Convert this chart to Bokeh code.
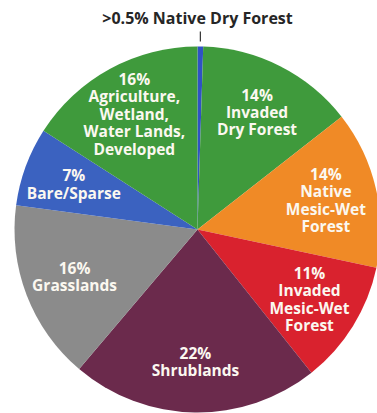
import math
from bokeh.plotting import figure
from bokeh.models import Range1d, ColumnDataSource
from bokeh.core.properties import value
from bokeh.embed import file_html
from bokeh.resources import INLINE

# ---- data (clockwise from 12 o'clock) ----
categories = ["Native Dry Forest", "Invaded Dry Forest", "Native Mesic-Wet Forest",
              "Invaded Mesic-Wet Forest", "Shrublands", "Grasslands", "Bare/Sparse",
              "Agriculture, Wetland, Water Lands, Developed"]
percents = [0.5, 14, 14, 11, 22, 16, 7, 16]
labels = ["", "14%\nInvaded\nDry Forest", "14%\nNative\nMesic-Wet\nForest",
          "11%\nInvaded\nMesic-Wet\nForest", "22%\nShrublands", "16%\nGrasslands",
          "7%\nBare/Sparse", "16%\nAgriculture,\nWetland,\nWater Lands,\nDeveloped"]
colors = ["#2f52c4", "#3f9a3c", "#f08a26", "#d9222e", "#6b2a4c", "#8b8b8b",
          "#3b62c0", "#3f9a3c"]
callout = ">0.5% Native Dry Forest"

# ---- layout ----
W, H = 377, 413
OFF = 0
TOT_H = 413
cx, cy_px, R = 197, 229, 183

def Y(py):
    return TOT_H - py

p = figure(width=W, height=H, output_backend="svg", toolbar_location=None,
           x_range=Range1d(OFF, OFF + W), y_range=Range1d(TOT_H - OFF - H, TOT_H - OFF),
           min_border=0, outline_line_color=None)
p.axis.visible = False
p.grid.visible = False
p.background_fill_color = "white"
p.border_fill_color = "white"

total = sum(percents)
starts, ends, mids = [], [], []
cum = 0.0
for v in percents:
    f0 = cum / total
    cum += v
    f1 = cum / total
    starts.append(math.pi / 2 - 2 * math.pi * f0)
    ends.append(math.pi / 2 - 2 * math.pi * f1)
    mids.append(math.pi / 2 - 2 * math.pi * (f0 + f1) / 2)

src = ColumnDataSource(dict(cat=categories, start=starts, end=ends, color=colors))
p.wedge(x=cx, y=Y(cy_px), radius=R, start_angle="start", end_angle="end",
        direction="clock", fill_color="color", line_color=None, source=src)

rl = 0.72 * R
lx = [cx + rl * math.cos(a) for a in mids]
ly = [Y(cy_px) + rl * math.sin(a) for a in mids]
p.text(x=lx, y=ly, text=labels, text_color="#fbf8f0", text_font=value("Open Sans"),
       text_font_style="bold", text_font_size="15.5px", text_align="center",
       text_baseline="middle", text_line_height=0.79)

# callout for the thin slice
a0 = mids[0]
ex = cx + R * math.cos(a0)
p.segment(x0=[ex], y0=[Y(31)], x1=[ex], y1=[Y(41)], line_color="#333333", line_width=1.2)
p.text(x=[cx], y=[Y(17)], text=[callout], text_color="#262626",
       text_font=value("Open Sans"), text_font_style="bold", text_font_size="16px",
       text_align="center", text_baseline="middle")

open("out.html", "w").write(file_html(p, INLINE))
